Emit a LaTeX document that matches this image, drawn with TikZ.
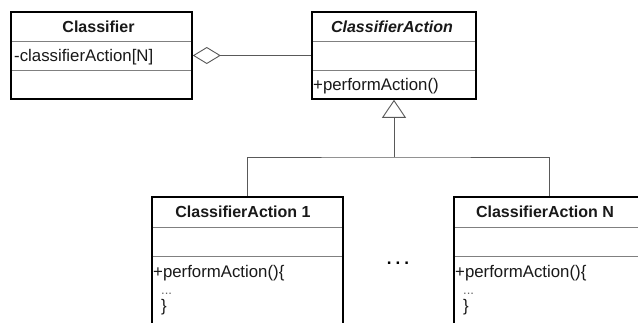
\documentclass[tikz,border=0pt]{standalone}
\usepackage{fontspec}
\setmainfont{Liberation Sans}
\usetikzlibrary{arrows.meta}
\begin{document}
\begin{tikzpicture}[x=1pt,y=-1pt,
  classbox/.style={draw=black, line width=1.6pt, inner sep=0pt},
  divider/.style={draw=black!50, line width=0.9pt},
  link/.style={draw=black!65, line width=0.9pt},
  titletext/.style={font=\fontsize{16}{19}\selectfont\bfseries, text=black!90, anchor=base, inner sep=0pt},
  membertext/.style={font=\fontsize{16.8}{20}\selectfont, text=black!90, anchor=base west, inner sep=0pt},
  smalldots/.style={font=\fontsize{13}{16}\selectfont, text=black!60, anchor=base west, inner sep=0pt},
]
\useasboundingbox (0,0) rectangle (638,322);
\fill[white] (0,0) rectangle (638,322);
\clip (0,0) rectangle (638,322);

% compartment dividers
\draw[divider] (11,41) -- (192,41) (11,70) -- (192,70);
\draw[divider] (312,41) -- (476,41) (312,70) -- (476,70);
\draw[divider] (152,227) -- (343,227) (152,256) -- (343,256);
\draw[divider] (454,227) -- (645,227) (454,256) -- (645,256);

% class boxes
\node[classbox, minimum width=181pt, minimum height=87pt] (cls) at (101.5,55.5) {};
\node[classbox, minimum width=164pt, minimum height=87pt] (ca) at (394,55.5) {};
\node[classbox, minimum width=191pt, minimum height=143pt] (c1) at (247.5,268.5) {};
\node[classbox, minimum width=191pt, minimum height=143pt] (cn) at (549.5,268.5) {};

% Classifier
\node[titletext] (clsname) at (98.5,32) {Classifier};
\node[membertext] (clsattr) at (14,61) {-classifierAction[N]};

% ClassifierAction (abstract)
\node[titletext, font=\fontsize{16}{19}\selectfont\bfseries\itshape] (caname) at (392,32) {ClassifierAction};
\node[membertext] (caop) at (313,90) {+performAction()};

% ClassifierAction 1
\node[titletext] (c1name) at (243,217.5) {ClassifierAction 1};
\node[membertext] (c1op) at (153,277) {+performAction()\{};
\node[smalldots] (c1body) at (161,294) {...};
\node[membertext] (c1end) at (161,311) {\}};

% ClassifierAction N
\node[titletext] (cnname) at (545,217.5) {ClassifierAction N};
\node[membertext] (cnop) at (455,277) {+performAction()\{};
\node[smalldots] (cnbody) at (463,294) {...};
\node[membertext] (cnend) at (463,311) {\}};

% ellipsis between the concrete classes
\node[font=\fontsize{17}{19}\selectfont\bfseries, anchor=base, inner sep=0pt] (dots) at (398,264) {.\hspace{4pt}.\hspace{4pt}.};

% aggregation
\draw[link, {Diamond[open, fill=white, length=28pt, width=17pt]}-] (cls.east) -- (ca.west);

% generalization
\coordinate (busy) at (0,157);
\coordinate (bus) at (ca.south |- busy);
\draw[link] (c1.north) |- (bus) -| (cn.north);
\draw[link, -{Triangle[open, fill=white, length=18pt, width=24pt]}] (bus) -- (ca.south);
\end{tikzpicture}
\end{document}
